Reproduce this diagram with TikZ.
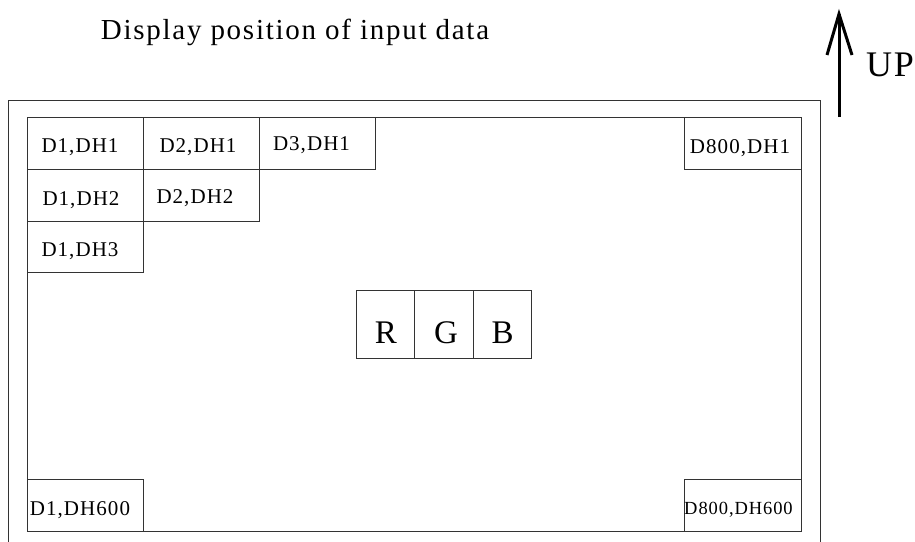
\documentclass[tikz,border=0pt]{standalone}
\usepackage{fontspec}
\setmainfont{Liberation Serif}
\newfontfamily\spaced[LetterSpace=5]{Liberation Serif}
\newfontfamily\titlefont[LetterSpace=6]{Liberation Serif}
\begin{document}
\begin{tikzpicture}[x=1pt,y=-1pt,
  frame/.style={draw=black!80,line width=1pt},
  cell/.style={frame},
  arrowline/.style={line width=3pt,line join=miter},
  celltext/.style={anchor=base,inner sep=0pt,font=\spaced\fontsize{21}{24}\selectfont},
  smalltext/.style={anchor=base,inner sep=0pt,font=\spaced\fontsize{18.5}{22}\selectfont},
  bigtext/.style={anchor=base,inner sep=0pt,font=\spaced\fontsize{33}{36}\selectfont}]
\useasboundingbox (0,0) rectangle (915,541);
% title
\node[anchor=base,inner sep=0pt,font=\titlefont\fontsize{29}{33}\selectfont] (title) at (295,39.3) {Display position of input data};
% up arrow
\coordinate (upbot) at (839,117);
\coordinate (uptop) at (839,14);
\draw[arrowline] (upbot) -- (uptop);
\draw[arrowline] (uptop) ++(-12,41) -- (uptop) -- ++(13,41);
\node[anchor=base,inner sep=0pt,font=\spaced\fontsize{36}{40}\selectfont] (up) at (890,76.7) {UP};
% frames
\draw[frame] (8,546) -- (8,100) -- (820,100) -- (820,546);
\draw[frame] (27,117) rectangle (801,531);
% cells
\draw[cell] (27,117) rectangle (143,169);
\draw[cell] (143,117) rectangle (259,169);
\draw[cell] (259,117) rectangle (375,169);
\draw[cell] (27,169) rectangle (143,221);
\draw[cell] (143,169) rectangle (259,221);
\draw[cell] (27,221) rectangle (143,272);
\draw[cell] (684,117) rectangle (801,169);
\draw[cell] (27,479) rectangle (143,531);
\draw[cell] (684,479) rectangle (801,531);
\node[celltext] (c11) at (80,152.7) {D1,DH1};
\node[celltext] (c21) at (198,152.7) {D2,DH1};
\node[celltext] (c31) at (311.5,150) {D3,DH1};
\node[celltext] (c12) at (81,205) {D1,DH2};
\node[celltext] (c22) at (195,203.3) {D2,DH2};
\node[celltext] (c13) at (80,256) {D1,DH3};
\node[celltext] (c8001) at (740,153.3) {D800,DH1};
\node[celltext] (c1600) at (80,515) {D1,DH600};
\node[smalltext] (c800600) at (738.5,514) {D800,DH600};
% RGB
\draw[cell] (356,290) rectangle (414,358);
\draw[cell] (414,290) rectangle (473,358);
\draw[cell] (473,290) rectangle (531,358);
\node[bigtext] (r) at (386,343) {R};
\node[bigtext] (g) at (446,343) {G};
\node[bigtext] (b) at (502.5,343) {B};
\end{tikzpicture}
\end{document}
